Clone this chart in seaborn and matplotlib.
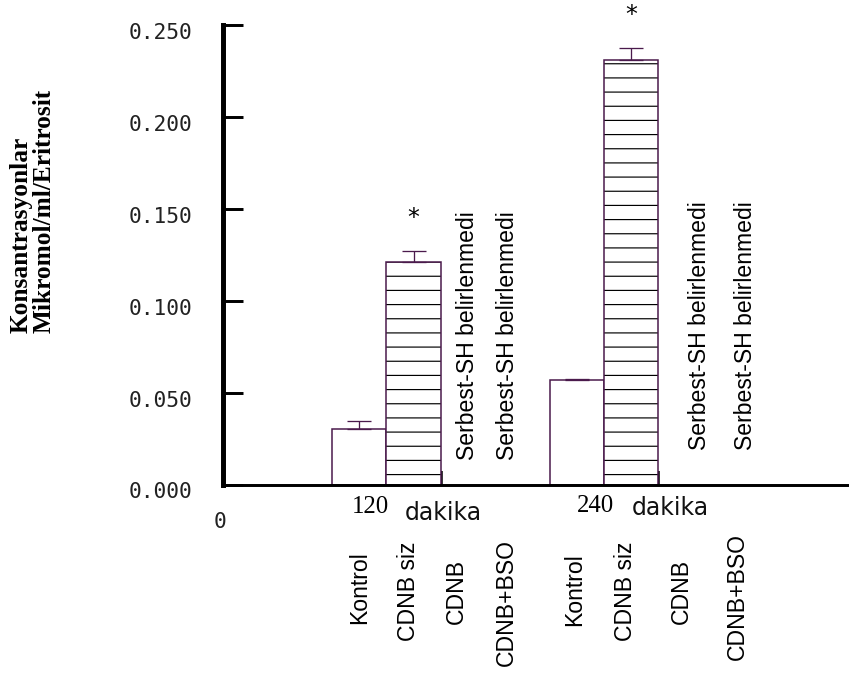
import numpy as np
import pandas as pd
import matplotlib
matplotlib.use("Agg")
import matplotlib.pyplot as plt
import seaborn as sns
from matplotlib.colors import to_rgba
from matplotlib.transforms import ScaledTranslation

# ---------------- data ----------------
time_groups = ["120", "240"]
group_labels = ["Kontrol", "CDNB siz", "CDNB", "CDNB+BSO"]
measured_groups = ["Kontrol", "CDNB siz"]
hatched_group = "CDNB siz"
values_120 = [0.030, 0.121]
values_240 = [0.057, 0.231]
sem_120 = [0.0045, 0.0058]
sem_240 = [0.0005, 0.0065]
significant_120 = [False, True]
significant_240 = [False, True]
not_determined_text = "Serbest-SH belirlenmedi"
unit_word = "dakika"
origin_label = "0"
ylabel_lines = ["Konsantrasyonlar", "Mikromol/ml/Eritrosit"]
yticks = [0.000, 0.050, 0.100, 0.150, 0.200, 0.250]

# ---------------- setup ----------------
W, H, DPI = 849, 673, 85
sns.set_style("white")
plt.rcParams["font.family"] = ["DejaVu Sans"]
plt.rcParams["hatch.linewidth"] = 1.0
purple = "#4a1a4c"

order = [f"{t}|{g}" for t in time_groups for g in group_labels]
rows = []
for t, vals, errs, sigs in zip(time_groups, [values_120, values_240],
                               [sem_120, sem_240], [significant_120, significant_240]):
    for g, v, e, s in zip(measured_groups, vals, errs, sigs):
        rows.append(dict(key=f"{t}|{g}", group=g, value=v, err=e, sig=s))
df = pd.DataFrame(rows)

fig = plt.figure(figsize=(W / DPI, H / DPI), dpi=DPI)
ax_left, ax_right, ax_top, ax_bottom = 223, 849, 25, 484.5
ax = fig.add_axes([ax_left / W, (H - ax_bottom) / H,
                   (ax_right - ax_left) / W, (ax_bottom - ax_top) / H])

sns.barplot(data=df, x="key", y="value", order=order, color="white",
            saturation=1, edgecolor=purple, linewidth=1.3, width=1.0,
            errorbar=None, ax=ax)

for p in ax.patches:
    idx = int(round(p.get_x() + p.get_width() / 2))
    if order[idx].split("|")[1] == hatched_group:
        p.set_hatch("-")
        if hasattr(p, "set_hatchcolor"):
            try:
                p.set_hatchcolor("black")
            except Exception:
                p._hatch_color = to_rgba("black")
        else:
            p._hatch_color = to_rgba("black")

xpos = np.array([order.index(k) for k in df["key"]])
ax.errorbar(xpos, df["value"], yerr=[np.zeros(len(df)), df["err"]], fmt="none",
            ecolor=purple, elinewidth=1.1, capsize=10.5, capthick=1.1, zorder=3)

for x, v, e, s in zip(xpos, df["value"], df["err"], df["sig"]):
    if s:
        ax.annotate("*", xy=(x, v + e), xytext=(0, 28), textcoords="offset points",
                    ha="center", va="center", fontsize=20, color="black",
                    annotation_clip=False)

ax.set_xlim(-2.5, 9.0)
ax.set_ylim(0, 0.25)
sns.despine(ax=ax, top=True, right=True)
ax.spines["left"].set_linewidth(4.2)
ax.spines["bottom"].set_linewidth(2.5)
ax.spines["left"].set_color("black")
ax.spines["bottom"].set_color("black")

edge_ticks = [order.index(f"{t}|{hatched_group}") + 0.5 for t in time_groups]
ax.set_xticks(edge_ticks)
ax.set_xticklabels([])
ax.set_xlabel("")
ax.set_ylabel("")
ax.set_yticks(yticks)
ax.tick_params(axis="x", direction="in", length=12, width=3, color="black", bottom=True)
ax.tick_params(axis="y", direction="in", length=17, width=2.5, color="black",
               left=True, labelleft=False)

# y tick labels (monospace, slightly below ticks)
off = ScaledTranslation(-31 / DPI, -8 / DPI, fig.dpi_scale_trans)
for v in yticks:
    ax.text(0, v, f"{v:.3f}", transform=ax.get_yaxis_transform() + off,
            ha="right", va="center", fontsize=18, family="DejaVu Sans Mono",
            color="#222222")

def P(px, py):
    return px / W, 1 - py / H

fig.text(*P(220, 521.5), origin_label, ha="center", va="center", fontsize=18,
         family="DejaVu Sans Mono", color="#222222")

# time labels
time_pos = [((352, 513), (405, 520)), ((577, 512), (632, 515))]
for t, ((nx, ny), (dxp, dyp)) in zip(time_groups, time_pos):
    fig.text(*P(nx, ny), t, ha="left", va="baseline", fontsize=21,
             family="Liberation Serif", color="black")
    fig.text(*P(dxp, dyp), unit_word, ha="left", va="baseline", fontsize=20,
             family="DejaVu Sans", color="#111111")

# category labels beneath the axis
cat_pos = [(359.5, 588), (408.5, 591), (456.5, 591), (506, 603),
           (575, 590), (625, 591), (681.5, 591), (737, 597)]
cat_texts = [g for t in time_groups for g in group_labels]
for lab, (px, py) in zip(cat_texts, cat_pos):
    fig.text(*P(px, py), lab, rotation=90, ha="center", va="center",
             fontsize=19.5, family="Liberation Sans", color="black")

# not-determined notes in empty slots
missing = [k for k in order if k not in set(df["key"])]
nd_pos = [(467, 335.5), (508, 335.5), (700, 326), (746, 326)]
for k, (px, py) in zip(missing, nd_pos):
    fig.text(*P(px, py), not_determined_text, rotation=90, ha="center", va="center",
             fontsize=19.5, family="Liberation Sans", color="black")

# y label
fig.text(*P(33, 333), "\n".join(ylabel_lines), rotation=90, ha="center", va="bottom",
         multialignment="left", linespacing=1.0, fontsize=21.5, fontweight="bold",
         family="Liberation Serif", color="black")

fig.savefig("out.png", dpi=DPI)
